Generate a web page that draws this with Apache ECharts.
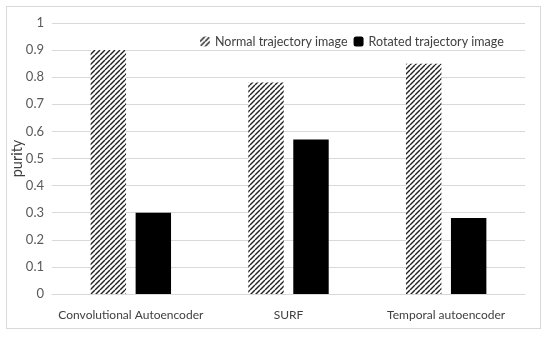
<!DOCTYPE html>
<html><head><meta charset="utf-8">
<script src="https://cdn.jsdelivr.net/npm/echarts@6/dist/echarts.min.js"></script>
<style>html,body{margin:0;padding:0;background:#fff}#c{width:550px;height:337px}
#frame{position:absolute;left:6px;top:6px;width:535px;height:323px;border:1px solid #d9d9d9;box-sizing:border-box;pointer-events:none}</style>
</head><body><div id="c"></div><div id="frame"></div>
<script>
const categories = ['Convolutional Autoencoder', 'SURF', 'Temporal autoencoder'];
const normalValues = [0.90, 0.78, 0.85];
const rotatedValues = [0.30, 0.57, 0.28];
const seriesNames = ['Normal trajectory image', 'Rotated trajectory image'];
const yTicks = [0, 0.1, 0.2, 0.3, 0.4, 0.5, 0.6, 0.7, 0.8, 0.9, 1];

function hatch() {
  const s = 5, cv = document.createElement('canvas');
  cv.width = s; cv.height = s;
  const g = cv.getContext('2d');
  g.fillStyle = '#fff'; g.fillRect(0, 0, s, s);
  g.strokeStyle = '#222'; g.lineWidth = 1.4;
  for (const o of [-s, 0, s]) {
    g.beginPath(); g.moveTo(o, s); g.lineTo(o + s, 0); g.stroke();
  }
  return cv;
}
const pat = { image: hatch(), repeat: 'repeat' };
const font = 'Lato';
const chart = echarts.init(document.getElementById('c'));
chart.setOption({
  animation: false,
  textStyle: { fontFamily: font },
  grid: { left: 52, width: 473, top: 23, height: 271, containLabel: false, outerBoundsMode: 'none' },
  legend: {
    top: 30, left: 195, itemWidth: 10, itemHeight: 10, itemGap: 6,
    textStyle: { fontSize: 12.5, color: '#404040', fontFamily: font },
    data: seriesNames
  },
  xAxis: {
    type: 'category', data: categories,
    axisLine: { lineStyle: { color: '#d9d9d9' } }, axisTick: { show: false },
    axisLabel: { fontSize: 12, color: '#404040', margin: 15, interval: 0 }
  },
  yAxis: {
    type: 'value', min: 0, max: 1, interval: 0.1,
    name: 'purity', nameLocation: 'middle', nameGap: 27, nameRotate: 90, nameMoveOverlap: false,
    nameTextStyle: { fontSize: 14.5, color: '#404040' },
    axisLabel: { fontSize: 13, color: '#595959', margin: 8,
      formatter: v => { const t = yTicks.find(x => Math.abs(x - v) < 1e-9); return t === undefined ? '' : String(t); } },
    splitLine: { lineStyle: { color: '#d9d9d9' } }
  },
  series: [
    { name: seriesNames[0], type: 'bar', data: normalValues, barGap: '27%', barCategoryGap: '49%',
      itemStyle: { color: pat } },
    { name: seriesNames[1], type: 'bar', data: rotatedValues, itemStyle: { color: '#000' } }
  ]
});
</script></body></html>
